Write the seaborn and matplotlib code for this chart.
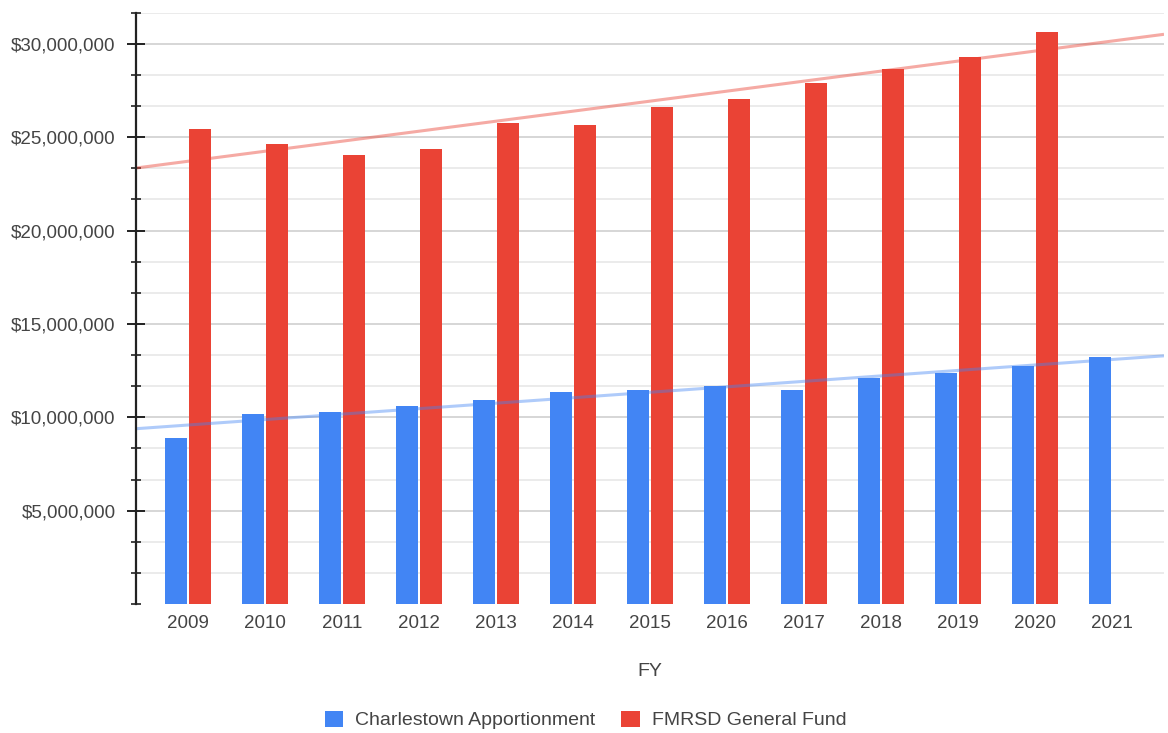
import numpy as np
import pandas as pd
import matplotlib
matplotlib.use("Agg")
import matplotlib.pyplot as plt
from matplotlib.patches import Patch
from matplotlib.ticker import FixedLocator, FuncFormatter
import seaborn as sns

# Fiscal years and funding amounts (dollars)
years = ["2009", "2010", "2011", "2012", "2013", "2014", "2015",
         "2016", "2017", "2018", "2019", "2020", "2021"]
charlestown = [8_900_000, 10_180_000, 10_300_000, 10_630_000, 10_900_000,
               11_380_000, 11_480_000, 11_650_000, 11_480_000, 12_130_000,
               12_360_000, 12_770_000, 13_250_000]
fmrsd = [25_440_000, 24_640_000, 24_040_000, 24_360_000, 25_750_000,
         25_640_000, 26_600_000, 27_030_000, 27_880_000, 28_650_000,
         29_270_000, 30_630_000, np.nan]

series_names = ["Charlestown Apportionment", "FMRSD General Fund"]
colors = ["#4285F4", "#EA4335"]

rows = []
for y, a, b in zip(years, charlestown, fmrsd):
    rows.append({"FY": y, "Series": series_names[0], "Amount": a})
    if not np.isnan(b):
        rows.append({"FY": y, "Series": series_names[1], "Amount": b})
df = pd.DataFrame(rows)

sns.set_style("white")
plt.rcParams["font.family"] = ["Liberation Sans", "DejaVu Sans"]
text_color = "#444444"

fig = plt.figure(figsize=(11.68, 7.33), dpi=100)
ax = fig.add_axes([136 / 1168, 129 / 733, (1164 - 136) / 1168, (604 - 12.7) / 733])

sns.barplot(data=df, x="FY", y="Amount", hue="Series", hue_order=series_names,
            order=years, palette=colors, width=0.62, gap=0.1,
            errorbar=None, legend=False, ax=ax, zorder=2, linewidth=0,
            saturation=1)

# Linear trendlines fitted on each series, extended across the full axis
xlo, xhi = -0.675, 12.675
xs = np.array([xlo, xhi])
for vals, col, alpha in [(charlestown, colors[0], 0.42), (fmrsd, colors[1], 0.45)]:
    v = np.array(vals, dtype=float)
    idx = np.arange(len(v))
    m = ~np.isnan(v)
    slope, icpt = np.polyfit(idx[m], v[m], 1)
    ax.plot(xs, slope * xs + icpt, color=col, alpha=alpha, lw=2.2,
            zorder=3, solid_capstyle="butt")

step = 5_000_000
ymax = step / 3 * 19
ax.set_xlim(xlo, xhi)
ax.set_ylim(0, ymax)

major = np.arange(step, 30_000_001, step)
minor = [k * step / 3 for k in range(0, 20) if k % 3 != 0 or k == 0]
ax.yaxis.set_major_locator(FixedLocator(major))
ax.yaxis.set_minor_locator(FixedLocator(minor))
ax.yaxis.set_major_formatter(FuncFormatter(lambda v, p: f"${v:,.0f}"))

ax.grid(axis="y", which="major", color="#cccccc", lw=1.1, zorder=0)
ax.grid(axis="y", which="minor", color="#e6e6e6", lw=1.1, zorder=0)
ax.set_axisbelow(True)
# no gridline along the baseline
ax.yaxis.get_minor_ticks()[0].gridline.set_visible(False)

for s in ["top", "right", "bottom"]:
    ax.spines[s].set_visible(False)
ax.spines["left"].set_color("#222222")
ax.spines["left"].set_linewidth(1.6)
ax.spines["left"].set_zorder(4)

ax.tick_params(axis="y", which="major", direction="inout", length=13.5, width=1.4,
               color="#222222", pad=8, labelsize=13.5, labelcolor=text_color, left=True)
ax.tick_params(axis="y", which="minor", direction="inout", length=7, width=1.2,
               color="#222222", left=True)
ax.tick_params(axis="x", length=0, pad=8, labelsize=13.5, labelcolor=text_color)

ax.set_ylabel("")
ax.set_xlabel("FY", fontsize=14, color=text_color, labelpad=22)

handles = [Patch(facecolor=c, edgecolor="none") for c in colors]
fig.legend(handles, series_names, loc="center", bbox_to_anchor=(585.5 / 1168, 1 - 720 / 733),
           ncol=2, frameon=False, fontsize=14, labelcolor=text_color,
           handlelength=0.95, handleheight=0.9, handletextpad=0.62,
           columnspacing=1.34)

fig.savefig("out.png", dpi=100)
